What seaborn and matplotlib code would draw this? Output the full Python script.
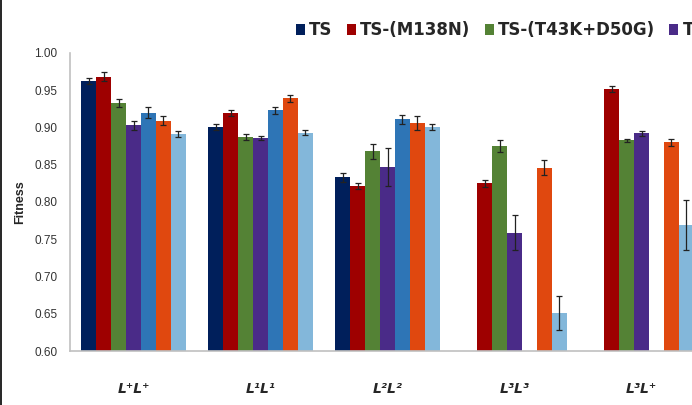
import matplotlib
matplotlib.use("Agg")
import matplotlib.pyplot as plt
from matplotlib.lines import Line2D
import numpy as np
import pandas as pd
import seaborn as sns

# genotypes on the x axis
genotypes = ["L\u207aL\u207a", "L\u00b9L\u00b9", "L\u00b2L\u00b2", "L\u00b3L\u00b3", "L\u00b3L\u207a"]

strains = ["TS", "TS-(M138N)", "TS-(T43K+D50G)", "TS-(M138N+T43K+D50G)",
           "TS-(K43T)", "TS-(G50D)", "TS-(N138M)"]
colors = ["#001f5b", "#9e0000", "#548235", "#4a2b88", "#2e75b6", "#e0480f", "#83b7da"]

nan = np.nan
# mean fitness per strain, one value per genotype
fit_ts = [0.962, 0.900, 0.833, nan, nan]
fit_m138n = [0.968, 0.920, 0.821, 0.825, 0.952]
fit_t43k = [0.933, 0.887, 0.868, 0.875, 0.883]
fit_triple = [0.903, 0.886, 0.847, 0.759, 0.892]
fit_k43t = [0.920, 0.923, 0.911, nan, nan]
fit_g50d = [0.909, 0.939, 0.906, 0.846, 0.880]
fit_n138m = [0.891, 0.893, 0.901, 0.651, 0.769]

# error bars (half-length)
err_ts = [0.004, 0.004, 0.006, nan, nan]
err_m138n = [0.006, 0.004, 0.004, 0.005, 0.004]
err_t43k = [0.005, 0.004, 0.010, 0.008, 0.002]
err_triple = [0.006, 0.003, 0.025, 0.024, 0.003]
err_k43t = [0.007, 0.005, 0.006, nan, nan]
err_g50d = [0.006, 0.005, 0.010, 0.010, 0.005]
err_n138m = [0.004, 0.003, 0.004, 0.023, 0.034]

fits = [fit_ts, fit_m138n, fit_t43k, fit_triple, fit_k43t, fit_g50d, fit_n138m]
errs = [err_ts, err_m138n, err_t43k, err_triple, err_k43t, err_g50d, err_n138m]

rows = []
for s, f, e in zip(strains, fits, errs):
    for g, v, d in zip(genotypes, f, e):
        rows.append({"genotype": g, "strain": s, "fitness": v, "err": d})
df = pd.DataFrame(rows)

sns.set_style("white")
plt.rcParams["font.family"] = ["Liberation Sans", "DejaVu Sans"]

fig = plt.figure(figsize=(6.92, 4.05), dpi=100)
ax = fig.add_axes([0.1012, 0.1333, 0.9176, 0.736])

sns.barplot(data=df, x="genotype", y="fitness", hue="strain", order=genotypes,
            hue_order=strains, palette=colors, errorbar=None, width=0.823,
            gap=0, linewidth=0, saturation=1, ax=ax)

# error bars on top of each drawn bar
for cont, s in zip(ax.containers, strains):
    sub = df[(df["strain"] == s) & df["fitness"].notna()]
    for bar, e in zip(cont, sub["err"]):
        ax.errorbar(bar.get_x() + bar.get_width() / 2, bar.get_height(), yerr=e,
                    color="#222222", lw=0.9, capsize=2, capthick=0.9)

ax.set_ylim(0.60, 1.00)
ax.set_xlim(-0.5, 4.5)
ax.set_yticks(np.arange(0.60, 1.001, 0.05))
ax.set_yticklabels([f"{t:.2f}" for t in np.arange(0.60, 1.001, 0.05)])
ax.set_xlabel("")
ax.set_ylabel("Fitness", fontsize=9, fontweight="bold", labelpad=6)
ax.tick_params(axis="y", length=0, pad=9, labelsize=8.5, labelcolor="#333333")
ax.tick_params(axis="x", length=0, pad=22)
for lab in ax.get_xticklabels():
    lab.set_family("DejaVu Sans")
    lab.set_fontstyle("italic")
    lab.set_fontweight("bold")
    lab.set_fontsize(10)

sns.despine(ax=ax)
for sp in ["left", "bottom"]:
    ax.spines[sp].set_color("#c0c0c0")
    ax.spines[sp].set_linewidth(1.2)

handles, labels = ax.get_legend_handles_labels()
ax.get_legend().remove()
fig.legend(handles, labels, loc="center left", bbox_to_anchor=(0.418, 0.925),
           ncol=7, frameon=False, handlelength=0.55, handleheight=0.55,
           handletextpad=0.25, columnspacing=0.85, borderaxespad=0,
           prop={"family": "DejaVu Sans", "weight": "bold", "size": 12})

fig.add_artist(Line2D([0.0015, 0.0015], [0, 1], color="black", lw=1.2,
                      transform=fig.transFigure))

fig.savefig("out.png", dpi=100)
